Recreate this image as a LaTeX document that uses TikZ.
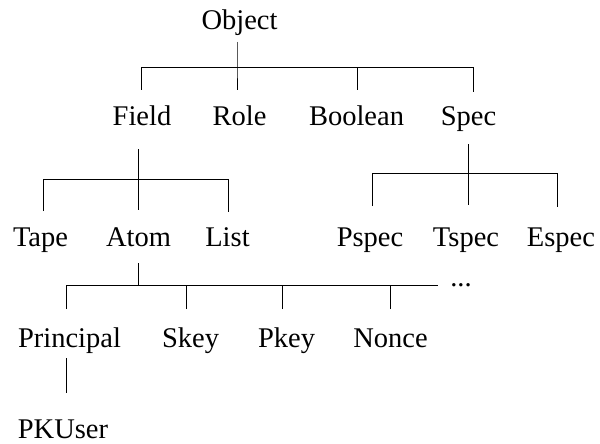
\documentclass[tikz,border=0pt]{standalone}
\usepackage{fontspec}
\setmainfont{Liberation Serif}
\begin{document}
\begin{tikzpicture}[x=1pt,y=-1pt,
  lbl/.style={anchor=base,inner sep=0pt,font=\fontsize{28.5}{34}\selectfont},
  edge/.style={line width=0.9pt,black}]
\useasboundingbox (0,0) rectangle (600,444);
% nodes
\node[lbl] (object) at (239.5,30) {Object};
\node[lbl] (field) at (142,125) {Field};
\node[lbl] (role) at (239.5,125) {Role};
\node[lbl] (boolean) at (356.5,125) {Boolean};
\node[lbl] (spec) at (468.5,125) {Spec};
\node[lbl] (tape) at (40.5,246) {Tape};
\node[lbl] (atom) at (138.5,246) {Atom};
\node[lbl] (list) at (227.5,246) {List};
\node[lbl] (pspec) at (370,246) {Pspec};
\node[lbl] (tspec) at (466,246) {Tspec};
\node[lbl] (espec) at (561,246) {Espec};
\node[lbl] (principal) at (69.5,347) {Principal};
\node[lbl] (skey) at (190.5,347) {Skey};
\node[lbl] (pkey) at (286.5,347) {Pkey};
\node[lbl] (nonce) at (390.5,347) {Nonce};
\node[lbl] (pkuser) at (63,438) {PKUser};
\node[lbl] (more) at (461,286) {...};
% connector coordinates
\coordinate (o1) at (237,42);   \coordinate (o2) at (237,67);
\coordinate (ob1) at (141,67);  \coordinate (ob2) at (473,67);
\coordinate (fieldT) at (141,90); \coordinate (roleT) at (237,90);
\coordinate (boolT) at (357,90);  \coordinate (specT) at (473,92);
\coordinate (f1) at (138,149);  \coordinate (f2) at (138,179);
\coordinate (fb1) at (43,179);  \coordinate (fb2) at (228,179);
\coordinate (tapeT) at (43,211); \coordinate (atomT) at (138,210); \coordinate (listT) at (228,212);
\coordinate (s1) at (468,144);  \coordinate (s2) at (468,173);
\coordinate (sb1) at (372,173); \coordinate (sb2) at (557,173);
\coordinate (pspecT) at (372,206); \coordinate (tspecT) at (468,205); \coordinate (especT) at (557,207);
\coordinate (a1) at (138,263);  \coordinate (a2) at (138,285);
\coordinate (ab1) at (66,285);  \coordinate (ab2) at (438,285);
\coordinate (prinT) at (66,309); \coordinate (skeyT) at (186,309);
\coordinate (pkeyT) at (282,309); \coordinate (nonceT) at (390,309);
\coordinate (p1) at (66,358);   \coordinate (pkuserT) at (66,393);
% connectors
\draw[edge] (o1) -- (o2) -- (roleT);
\draw[edge] (fieldT) -- (ob1) -- (ob2) -- (specT);
\draw[edge] (boolT) -- (boolT |- ob1);
\draw[edge] (f1) -- (atomT);
\draw[edge] (tapeT) -- (fb1) -- (fb2) -- (listT);
\draw[edge] (s1) -- (tspecT);
\draw[edge] (pspecT) -- (sb1) -- (sb2) -- (especT);
\draw[edge] (a1) -- (a2);
\draw[edge] (prinT) -- (ab1) -- (ab2);
\draw[edge] (skeyT) -- (skeyT |- ab1);
\draw[edge] (pkeyT) -- (pkeyT |- ab1);
\draw[edge] (nonceT) -- (nonceT |- ab1);
\draw[edge] (p1) -- (pkuserT);
\end{tikzpicture}
\end{document}
